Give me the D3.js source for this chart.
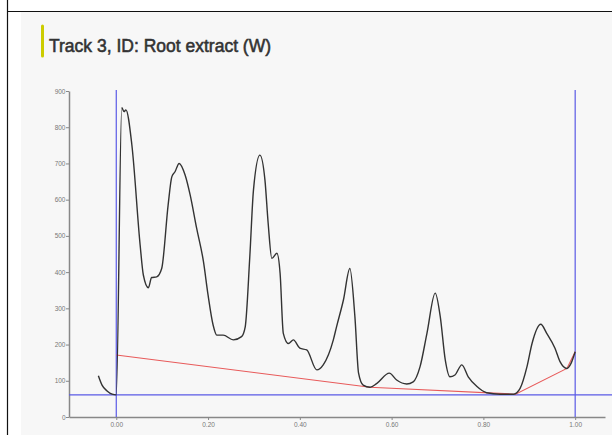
<!DOCTYPE html>
<html>
<head>
<meta charset="utf-8">
<script src="https://cdn.jsdelivr.net/npm/d3@7"></script>
<style>
  html, body { margin: 0; padding: 0; background: #ffffff; }
  svg { display: block; }
</style>
</head>
<body>
<svg id="chart" width="612" height="435"></svg>
<script>
// Densitometric scan of track 3 (Rf vs. intensity)
const rf = [-0.039, -0.031, -0.020, -0.009, 0.000, 0.012, 0.017, 0.021, 0.034, 0.052,
  0.059, 0.070, 0.077, 0.088, 0.099, 0.113, 0.121, 0.128, 0.137, 0.150,
  0.161, 0.175, 0.190, 0.200, 0.211, 0.219, 0.233, 0.255, 0.273, 0.281,
  0.291, 0.299, 0.313, 0.324, 0.331, 0.339, 0.350, 0.357, 0.364, 0.375,
  0.386, 0.400, 0.415, 0.437, 0.451, 0.473, 0.480, 0.495, 0.509, 0.520,
  0.528, 0.538, 0.553, 0.568, 0.595, 0.611, 0.633, 0.647, 0.662, 0.677,
  0.695, 0.706, 0.717, 0.727, 0.738, 0.753, 0.767, 0.786, 0.807, 0.836,
  0.866, 0.880, 0.895, 0.906, 0.925, 0.938, 0.956, 0.967, 0.982, 0.991, 1.000];
const intensity = [114, 88, 72, 63, 61, 854, 843, 848, 751, 475,
  392, 357, 385, 387, 410, 585, 663, 677, 700, 668,
  613, 522, 429, 337, 254, 226, 226, 213, 222, 249,
  443, 627, 723, 654, 535, 438, 452, 397, 231, 203,
  213, 190, 185, 130, 144, 213, 249, 323, 410, 277,
  121, 88, 82, 93, 121, 102, 91, 97, 139, 231,
  342, 277, 157, 111, 116, 144, 111, 84, 67, 63,
  63, 79, 139, 203, 256, 231, 190, 153, 134, 148, 180];

// Baseline anchor points
const baseRf = [0.000, 0.553, 0.870, 0.982, 1.000];
const baseVal = [171, 82, 63, 134, 180];

// Start / front markers and threshold level
const markerRf = [0.0, 1.0];
const threshold = 61;

const xTicks = [0.0, 0.2, 0.4, 0.6, 0.8, 1.0];
const yTicks = [0, 100, 200, 300, 400, 500, 600, 700, 800, 900];

const svg = d3.select("#chart");

// frame and panel
svg.append("rect").attr("x", 21).attr("y", 12).attr("width", 591).attr("height", 423).attr("fill", "#f7f7f7");
svg.append("line").attr("x1", 7.5).attr("x2", 7.5).attr("y1", 0).attr("y2", 435).attr("stroke", "#111").attr("stroke-width", 1.2);
svg.append("line").attr("x1", 7).attr("x2", 612).attr("y1", 11.5).attr("y2", 11.5).attr("stroke", "#111").attr("stroke-width", 1.2);

// title
svg.append("line").attr("x1", 42.5).attr("x2", 42.5).attr("y1", 26).attr("y2", 56)
  .attr("stroke", "#cccc00").attr("stroke-width", 3).attr("stroke-linecap", "round");
svg.append("text").attr("x", 49).attr("y", 52)
  .attr("font-family", "Liberation Sans, Arial, sans-serif").attr("font-size", 17.5)
  .attr("fill", "#333").attr("stroke", "#333").attr("stroke-width", 0.55)
  .text("Track 3, ID: Root extract (W)");

const x = d3.scaleLinear().domain([-0.103, 1.065]).range([69, 605]);
const y = d3.scaleLinear().domain([0, 900]).range([417, 91]);

const axisFont = "Liberation Sans, Arial, sans-serif";

const gx = svg.append("g").attr("transform", "translate(0,417)")
  .call(d3.axisBottom(x).tickValues(xTicks).tickFormat(d3.format(".2f")).tickSize(3).tickSizeOuter(0));
const gy = svg.append("g").attr("transform", "translate(69,0)")
  .call(d3.axisLeft(y).tickValues(yTicks).tickSize(3).tickSizeOuter(0));
[gx, gy].forEach(g => {
  g.select(".domain").attr("stroke", "#888").attr("stroke-width", 1.5);
  g.selectAll(".tick line").attr("stroke", "#888");
  g.selectAll(".tick text").attr("fill", "#777").attr("font-size", 6.5).attr("font-family", axisFont);
});
gy.selectAll(".tick text").attr("x", -3.5);
gx.selectAll(".tick text").attr("y", 5);

// markers
svg.selectAll(".marker").data(markerRf).enter().append("line")
  .attr("x1", d => x(d)).attr("x2", d => x(d))
  .attr("y1", y(903)).attr("y2", y(0))
  .attr("stroke", "#5a5ae6").attr("stroke-width", 1.2);
svg.append("line").attr("x1", x(-0.103)).attr("x2", 612)
  .attr("y1", y(threshold)).attr("y2", y(threshold))
  .attr("stroke", "#5a5ae6").attr("stroke-width", 1.2);

// baseline
const baseLine = d3.line().x((d, i) => x(baseRf[i])).y(d => y(d));
svg.append("path").attr("d", baseLine(baseVal))
  .attr("fill", "none").attr("stroke", "#e85a5a").attr("stroke-width", 1.1);

// trace
const trace = d3.line().x((d, i) => x(rf[i])).y(d => y(d)).curve(d3.curveMonotoneX);
svg.append("path").attr("d", trace(intensity))
  .attr("fill", "none").attr("stroke", "#333").attr("stroke-width", 1.4)
  .attr("stroke-linejoin", "round");
</script>
</body>
</html>
